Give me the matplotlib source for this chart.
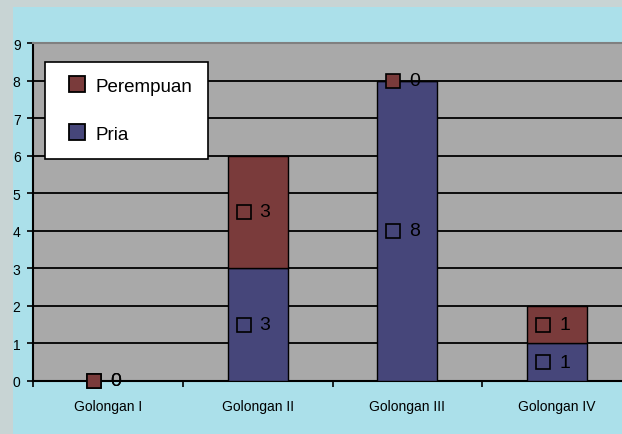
import matplotlib
matplotlib.use("Agg")
import matplotlib.pyplot as plt
import matplotlib.transforms as mtransforms
from matplotlib.patches import Rectangle
from matplotlib.lines import Line2D
import numpy as np

categories = ["Golongan I", "Golongan II", "Golongan III", "Golongan IV"]
pria = [0, 3, 8, 1]
perempuan = [0, 3, 0, 1]
yticks = [0, 1, 2, 3, 4, 5, 6, 7, 8, 9]

c_pria = "#46467a"
c_per = "#7a3b3b"

plt.rcParams['font.family'] = ['Liberation Sans', 'DejaVu Sans']

fig = plt.figure(figsize=(6.22, 4.35), dpi=100)
fig.patch.set_facecolor("#c8d4d4")
bg = Rectangle((13/622, 0), 1 - 13/622, (435-8)/435,
               transform=fig.transFigure, facecolor="#abe0ea",
               edgecolor="none", zorder=-5)
fig.add_artist(bg)

ax = fig.add_axes([33/622, 53/435, 599/622, 338/435])
ax.set_zorder(1)
ax.set_facecolor("#a9a9a9")

x = np.arange(len(categories))
w = 0.40
ax.bar(x, pria, w, color=c_pria, edgecolor="black", linewidth=1.0, zorder=3)
ax.bar(x, perempuan, w, bottom=pria, color=c_per, edgecolor="black", linewidth=1.0, zorder=3)

shift = mtransforms.ScaledTranslation(-14/100, 0, fig.dpi_scale_trans)
for series, bottoms, col in [(pria, [0]*4, c_pria), (perempuan, pria, c_per)]:
    for i, (v, b) in enumerate(zip(series, bottoms)):
        yc = b + v / 2
        ax.plot([x[i]], [yc], marker="s", markersize=9.5, markerfacecolor=col,
                markeredgecolor="black", markeredgewidth=1.2, linestyle="none",
                zorder=5, clip_on=False, transform=ax.transData + shift)
        ax.annotate(str(v), (x[i], yc), xytext=(1.5, 0), textcoords="offset points",
                    ha="left", va="center", fontsize=14, color="black", zorder=6,
                    annotation_clip=False)

ax.set_xlim(-0.5, 3.5)
ax.set_ylim(0, 9)
ax.set_yticks(yticks)
ax.yaxis.grid(True, color="black", linewidth=1.3)
ax.set_axisbelow(True)
ax.tick_params(axis="y", direction="out", length=4, width=1.2, labelsize=10, pad=5, colors="black")

ax.set_xticks(np.arange(len(categories) + 1) - 0.5)
ax.set_xticklabels([])
ax.set_xticks(x, minor=True)
ax.set_xticklabels(categories, minor=True, fontsize=10)
ax.tick_params(axis="x", which="major", direction="out", length=4, width=1.2)
ax.tick_params(axis="x", which="minor", length=0, pad=13)

for s in ["left", "bottom"]:
    ax.spines[s].set_color("black")
    ax.spines[s].set_linewidth(1.5)
ax.spines["top"].set_color("#808080")
ax.spines["top"].set_linewidth(1.5)
ax.spines["right"].set_visible(False)

handles = [Line2D([], [], marker="s", markersize=11, markerfacecolor=c_per,
                  markeredgecolor="black", markeredgewidth=1.3, linestyle="none"),
           Line2D([], [], marker="s", markersize=11, markerfacecolor=c_pria,
                  markeredgecolor="black", markeredgewidth=1.3, linestyle="none")]
leg = ax.legend(handles, ["Perempuan", "Pria"], loc="upper left",
                bbox_to_anchor=(0.020, 0.944), borderaxespad=0, fontsize=13.5,
                frameon=True, fancybox=False, shadow=False, labelspacing=1.65,
                borderpad=0.85, handlelength=1.75, handletextpad=0.1)
leg.get_frame().set_edgecolor("black")
leg.get_frame().set_linewidth(1.2)
leg.get_frame().set_facecolor("white")
leg.get_frame().set_alpha(1)
leg.set_zorder(10)

fig.savefig("out.png", dpi=100, facecolor=fig.get_facecolor())
